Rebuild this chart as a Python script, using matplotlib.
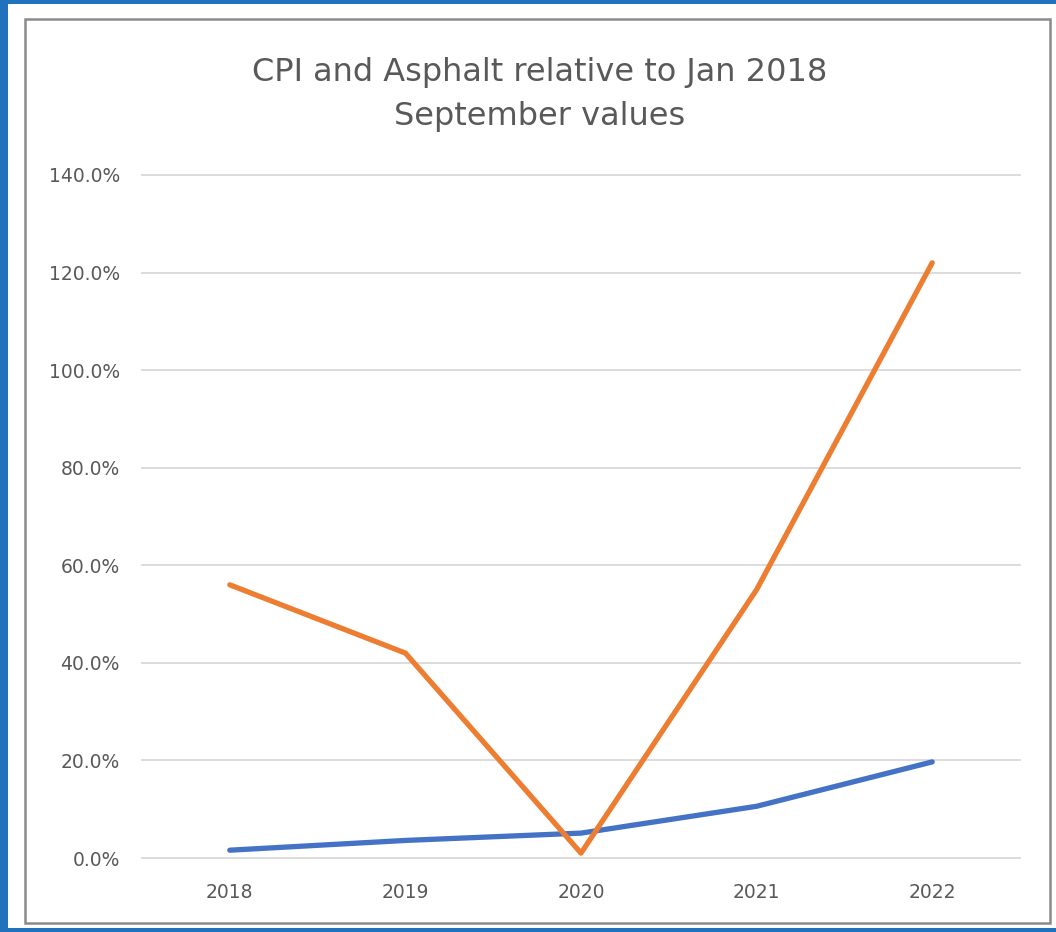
import matplotlib.pyplot as plt
from matplotlib.patches import Rectangle
from matplotlib.ticker import PercentFormatter

years = ['2018', '2019', '2020', '2021', '2022']
asphalt = [0.56, 0.42, 0.01, 0.55, 1.22]
cpi = [0.016, 0.036, 0.051, 0.106, 0.197]

W, H = 1056, 932
fig = plt.figure(figsize=(W / 100, H / 100), dpi=100)
fig.patch.set_facecolor('#1f72bb')

# white panel and the grey chart border, kept behind the axes
fig.patches.append(Rectangle((8 / W, 1 - 928 / H), (W - 8) / W, 924 / H,
                             transform=fig.transFigure, facecolor='white',
                             edgecolor='none', zorder=-2))
fig.patches.append(Rectangle((25 / W, 1 - 923 / H), 1025 / W, 904 / H,
                             transform=fig.transFigure, facecolor='none',
                             edgecolor='#8a8a8a', linewidth=1.8, zorder=-1))

ax = fig.add_axes([142 / W, 1 - 858 / H, 878 / W, 683 / H])
ax.set_facecolor('none')

x = range(len(years))
ax.plot(x, cpi, color='#4472c4', linewidth=3.8, solid_capstyle='round')
ax.plot(x, asphalt, color='#ed7d31', linewidth=3.8, solid_capstyle='round')

ax.set_xlim(-0.5, len(years) - 0.5)
ax.set_ylim(0, 1.4)
ax.set_yticks([i * 0.2 for i in range(8)])
ax.yaxis.set_major_formatter(PercentFormatter(1.0, decimals=1))
ax.set_xticks(list(x))
ax.set_xticklabels(years)

ax.grid(axis='y', color='#d9d9d9', linewidth=1.3)
for gl in ax.get_ygridlines():
    gl.set_clip_on(False)
ax.set_axisbelow(True)
for s in ax.spines.values():
    s.set_visible(False)
ax.tick_params(length=0, labelcolor='#595959', labelsize=13.5)
ax.tick_params(axis='y', pad=16)
ax.tick_params(axis='x', pad=18)

fig.text(540 / W, 1 - 73 / H, 'CPI and Asphalt relative to Jan 2018',
         ha='center', va='center', fontsize=23, color='#595959')
fig.text(540 / W, 1 - 117 / H, 'September values',
         ha='center', va='center', fontsize=23, color='#595959')

fig.savefig('out.png', dpi=100, facecolor=fig.get_facecolor())
